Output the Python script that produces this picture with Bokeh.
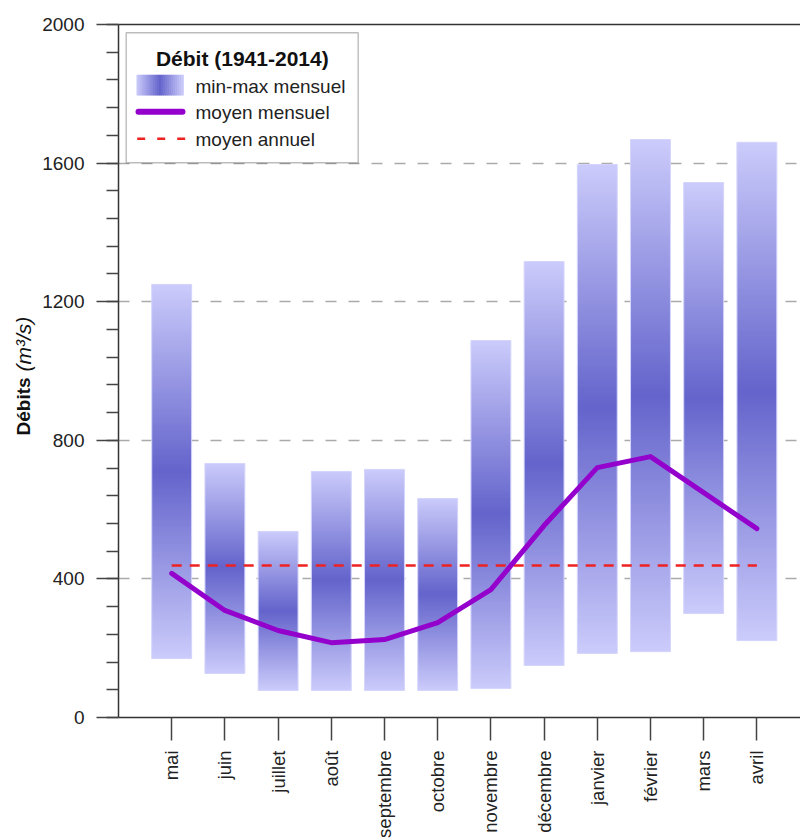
import numpy as np
from math import pi
from bokeh.plotting import figure
from bokeh.layouts import row
from bokeh.models import (Range1d, FixedTicker, SingleIntervalTicker, LinearAxis,
                          Label, BoxAnnotation)
from bokeh.embed import file_html
from bokeh.resources import INLINE

# ---------------- data ----------------
months = ["mai", "juin", "juillet", "août", "septembre", "octobre",
          "novembre", "décembre", "janvier", "février", "mars", "avril"]
q_min = [170, 127, 78, 78, 78, 78, 84, 150, 185, 190, 300, 222]
q_max = [1250, 733, 537, 710, 716, 632, 1088, 1316, 1596, 1668, 1544, 1660]
q_mean = [416, 309, 251, 216, 225, 274, 369, 554, 721, 753, 649, 545]
q_annual = 439
legend_title = "Débit (1941-2014)"
legend_labels = ["min-max mensuel", "moyen mensuel", "moyen annuel"]
y_title_bold = "Débits"
y_title_unit = "(m³/s)"

FONT = "Liberation Sans"
LIGHT = np.array([204, 204, 252])
DARK = np.array([100, 100, 204])

xs = list(range(1, len(months) + 1))
bar_w = 0.75


def mix(d):
    return LIGHT * (1 - d) + DARK * d


def grad_img(n=256):
    t = (np.arange(n) + 0.5) / n
    d = 1 - np.abs(2 * t - 1)
    rgb = LIGHT[None, :] * (1 - d[:, None]) + DARK[None, :] * d[:, None]
    img = np.empty((n, 1), dtype=np.uint32)
    view = img.view(dtype=np.uint8).reshape((n, 1, 4))
    view[:, 0, 0:3] = rgb.astype(np.uint8)
    view[:, 0, 3] = 255
    return img


FW, FH = 682, 693
TOP, BOT = 24, 123
LW = 36

# ---------------- left strip holding the y-axis title ----------------
# same vertical frame structure as the main chart
lf = figure(title=None, frame_width=LW, frame_height=FH,
            x_range=Range1d(0, LW), y_range=Range1d(0, 2000),
            output_backend="svg", toolbar_location=None,
            min_border_left=0, min_border_right=0,
            min_border_top=TOP, min_border_bottom=BOT, outline_line_color=None,
            background_fill_color="white", border_fill_color="white")
lf.xaxis.visible = False
lf.yaxis.visible = False
lf.grid.visible = False
# y positions measured from the frame bottom (page y 717)
lf.add_layout(Label(x=22.5, y=717 - 435, x_units="screen", y_units="screen",
                    text=y_title_bold, angle=pi / 2, text_align="left",
                    text_baseline="middle", text_font=FONT, text_font_style="bold",
                    text_font_size="19px", text_color="#111111"))
lf.add_layout(Label(x=22.5, y=717 - 371, x_units="screen", y_units="screen",
                    text=y_title_unit, angle=pi / 2, text_align="left",
                    text_baseline="middle", text_font=FONT, text_font_style="italic",
                    text_font_size="21px", text_color="#111111"))

# ---------------- main chart ----------------
p = figure(frame_width=FW, frame_height=FH,
           x_range=Range1d(0, 12.82), y_range=Range1d(0, 2000),
           output_backend="svg", toolbar_location=None,
           min_border_left=118 - LW, min_border_right=0, min_border_top=TOP,
           min_border_bottom=BOT, outline_line_color=None,
           background_fill_color="white", border_fill_color="white")

# grid
p.xgrid.visible = False
p.ygrid.ticker = SingleIntervalTicker(interval=400)
p.ygrid.grid_line_color = "#aaaaaa"
p.ygrid.grid_line_width = 1.5
p.ygrid.grid_line_dash = "11 12"

# y axis
ya = p.yaxis[0]
ya.ticker = SingleIntervalTicker(interval=400, num_minor_ticks=5)
ya.major_tick_out = 22
ya.major_tick_in = 0
ya.minor_tick_out = 12
ya.minor_tick_in = 0
ya.axis_line_color = "#333333"
ya.axis_line_width = 1.5
ya.major_tick_line_color = "#444444"
ya.major_tick_line_width = 1.5
ya.minor_tick_line_color = "#444444"
ya.minor_tick_line_width = 1.5
ya.major_label_text_font = FONT
ya.major_label_text_font_size = "19px"
ya.major_label_text_color = "#222222"
ya.major_label_standoff = 12

# x axis
xa = p.xaxis[0]
xa.ticker = FixedTicker(ticks=xs)
xa.major_label_overrides = {x: m for x, m in zip(xs, months)}
xa.major_label_orientation = pi / 2
xa.major_tick_out = 23
xa.major_tick_in = 0
xa.minor_tick_line_color = None
xa.axis_line_color = "#333333"
xa.axis_line_width = 1.5
xa.major_tick_line_color = "#444444"
xa.major_tick_line_width = 1.5
xa.major_label_text_font = FONT
xa.major_label_text_font_size = "18.5px"
xa.major_label_text_color = "#222222"
xa.major_label_standoff = 10

# top line
top = LinearAxis(ticker=FixedTicker(ticks=[]), axis_line_color="#333333",
                 axis_line_width=1.5, major_tick_line_color=None,
                 minor_tick_line_color=None)
p.add_layout(top, "above")

# bars with vertical gradient
imgs = [grad_img() for _ in xs]
p.image_rgba(image=imgs,
             x=[x - bar_w / 2 for x in xs], y=q_min,
             dw=[bar_w] * len(xs), dh=[hi - lo for lo, hi in zip(q_min, q_max)])
p.quad(left=[x - bar_w / 2 for x in xs], right=[x + bar_w / 2 for x in xs],
       bottom=q_min, top=q_max, fill_alpha=0, line_color="#d4d4fc", line_width=1)

# annual mean
p.line(x=[xs[0], xs[-1]], y=[q_annual, q_annual], line_color="#ee2222",
       line_width=2.5, line_dash="10 8")
# monthly mean
p.line(x=xs, y=q_mean, line_color="#9400cc", line_width=5,
       line_join="round", line_cap="round")

# ---------------- legend ----------------
def ty(offset):  # offset from frame top -> screen y from frame bottom
    return FH - offset


def sbox(l, r, t, b, **kw):
    return BoxAnnotation(left=l, right=r, top=ty(t), bottom=ty(b),
                         left_units="screen", right_units="screen",
                         top_units="screen", bottom_units="screen", **kw)


p.add_layout(sbox(7.7, 239.7, 8.3, 138.3, fill_color="white", fill_alpha=1,
                  line_color="#222222", line_width=1.4))
# gradient swatch
n_strips = 23
sw_l, sw_r = 18.0, 64.7
step = (sw_r - sw_l) / n_strips
for i in range(n_strips):
    t = (i + 0.5) / n_strips
    d = 1 - abs(2 * t - 1)
    c = mix(d).astype(int)
    p.add_layout(sbox(sw_l + i * step, sw_l + (i + 1) * step + 0.6, 50.3, 71,
                      fill_color="#%02x%02x%02x" % tuple(c), fill_alpha=1,
                      line_color=None))
# purple line swatch
p.add_layout(sbox(17, 67, 84.3, 90.3, fill_color="#9400cc", fill_alpha=1,
                  line_color=None, border_radius=3))
# red dashed swatch
for a in (18.7, 38.7, 58.7):
    p.add_layout(sbox(a, a + 8, 113, 115.6, fill_color="#ee2222", fill_alpha=1,
                      line_color=None))

p.add_layout(Label(x=123.8, y=ty(33.5), x_units="screen", y_units="screen",
                   text=legend_title, text_align="center", text_baseline="middle",
                   text_font=FONT, text_font_style="bold", text_font_size="21px",
                   text_color="#111111"))
for lab, off in zip(legend_labels, (62, 88, 115)):
    p.add_layout(Label(x=77, y=ty(off), x_units="screen", y_units="screen",
                       text=lab, text_align="left", text_baseline="middle",
                       text_font=FONT, text_font_size="19px", text_color="#222222"))

root = row(lf, p)
open("out.html", "w").write(file_html(root, INLINE))
